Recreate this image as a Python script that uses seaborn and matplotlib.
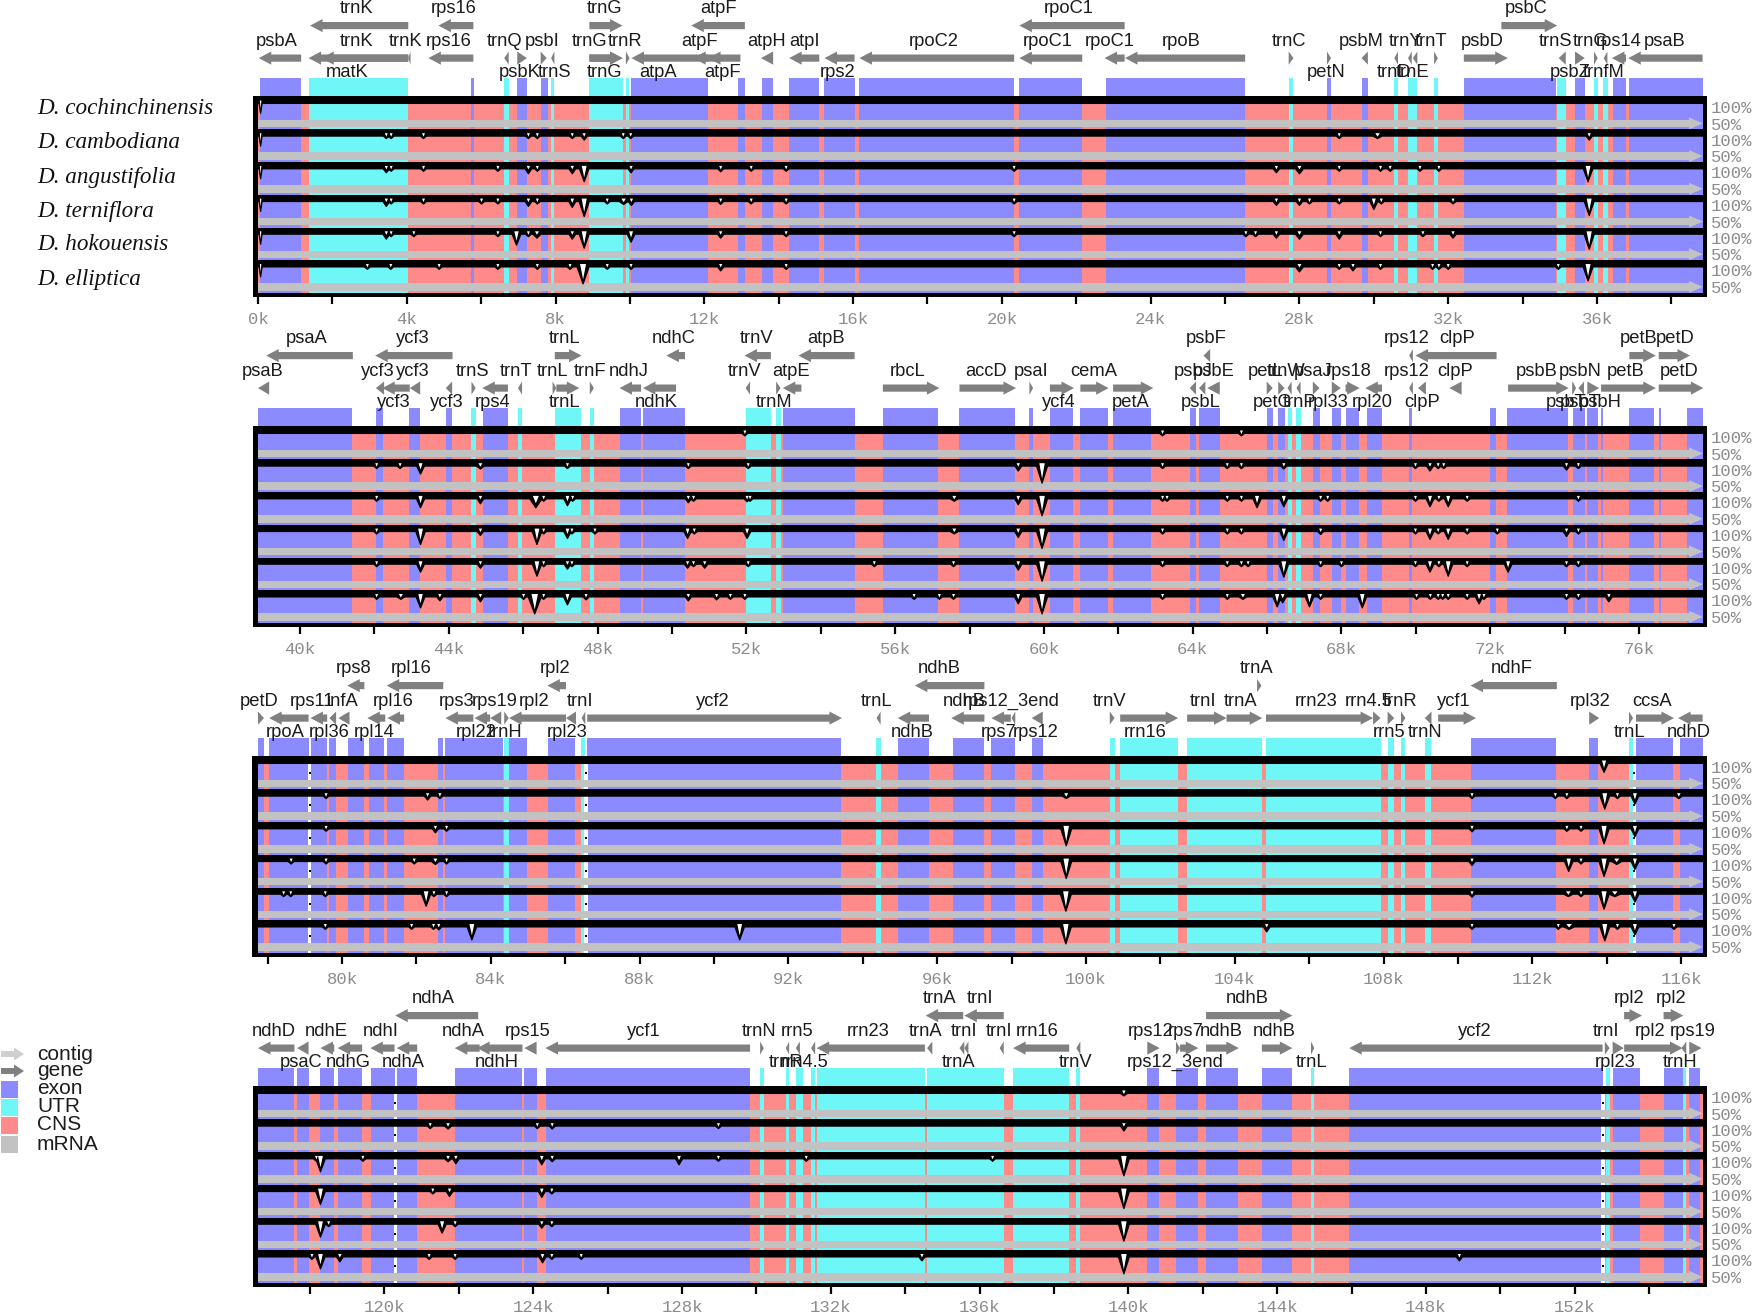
import math
import matplotlib
matplotlib.use("Agg")
import matplotlib.pyplot as plt
from matplotlib.patches import Rectangle, Polygon
import seaborn as sns

sns.set_theme(style="white", rc={"font.family": "Liberation Sans", "patch.force_edgecolor": False})

SPECIES = ["D. cochinchinensis", "D. cambodiana", "D. angustifolia",
           "D. terniflora", "D. hokouensis", "D. elliptica"]
PANEL_START = [0.0, 38.87, 77.74, 116.6]
PANEL_SPAN = 38.85

# ---- annotated blocks (kb) ----
P1_EXON = [(0.06,1.16),(5.73,5.80),(6.97,7.23),(7.60,7.81),(10.04,12.10),(12.91,13.09),(13.56,13.85),
           (14.28,15.09),(15.23,16.04),(16.17,20.33),(20.47,22.16),(22.81,26.54),(28.74,28.85),(29.67,29.84),
           (32.42,34.91),(35.41,35.67),(36.42,36.78),(36.86,38.84)]
P1_UTR = [(1.36,4.04),(6.62,6.74),(7.88,7.97),(8.91,9.80),(9.89,9.97),(27.71,27.84),(30.55,30.65),(30.92,31.17),
          (31.62,31.72),(34.93,35.16),(35.92,36.04),(36.17,36.29)]
P2_EXON = [(38.87,41.40),(42.04,42.22),(42.92,43.23),(43.92,44.09),(44.91,45.59),(48.61,49.16),(49.23,50.34),
           (52.98,54.91),(55.67,57.15),(57.73,59.22),(59.61,59.71),(60.16,60.79),(60.98,61.71),(61.86,62.89),
           (63.92,64.10),(64.17,64.73),(65.99,66.15),(66.30,66.47),(67.23,67.41),(67.74,67.98),(68.11,68.47),
           (68.68,69.09),(69.82,69.90),(71.98,72.16),(72.46,74.10),(74.23,74.54),(74.61,74.91),(74.97,75.03),
           (75.73,76.41),(76.53,76.60),(77.29,77.71)]
P2_UTR = [(44.61,44.73),(45.86,45.97),(46.85,47.55),(47.79,47.91),(51.98,52.66),(52.80,52.93),(66.55,66.66),(66.79,66.90)]
P3_EXON = [(77.74,77.90),(78.04,79.10),(79.17,79.59),(79.66,79.84),(80.17,80.59),(80.73,81.14),(81.22,81.67),
           (82.59,82.72),(82.78,84.32),(84.48,84.97),(85.54,86.26),(86.59,93.42),(94.94,95.78),(96.42,97.27),
           (97.46,98.10),(98.54,98.84),(110.34,112.65),(113.53,113.77),(114.79,115.77),(115.97,116.58)]
P3_UTR = [(84.36,84.48),(86.42,86.54),(94.36,94.48),(100.64,100.77),(100.92,102.48),(102.72,104.72),(104.84,107.92),
          (108.11,108.29),(108.47,108.59),(109.11,109.29),(114.60,114.71)]
P4_EXON = [(116.59,117.58),(117.65,117.96),(118.28,118.65),(118.76,119.40),(119.65,120.27),(120.33,120.88),
           (121.89,123.71),(123.76,124.09),(124.33,129.83),(140.51,140.83),(141.28,141.88),(142.09,142.94),
           (143.59,144.39),(145.94,152.75),(153.02,153.75),(154.39,154.90),(155.08,155.38)]
P4_UTR = [(130.10,130.20),(130.79,130.88),(131.06,131.25),(131.47,131.58),(131.62,134.52),(134.59,136.65),
          (136.90,138.41),(138.60,138.71),(144.91,145.00),(152.84,152.94),(154.90,155.00)]

# white assembly gaps in the tracks (kb)
P1_GAPS, P2_GAPS = [], []
P3_GAPS = [79.13, 86.56, 114.74]
P4_GAPS = [120.29, 152.76]

# ---- genes: name, start, end, strand, row (0 lower / 1 upper), label side (a/b), label centre ----
P1_GENES = [
 ("psbA",0.02,1.16,-1,0,"a",0.50),("trnK",1.36,4.04,-1,0,"a",2.65),("matK",1.70,4.04,-1,0,"b",2.39),
 ("trnK",4.04,4.10,-1,0,"a",3.97),("trnK",1.40,4.04,-1,1,"a",2.65),("rps16",4.58,5.79,-1,0,"a",5.13),
 ("rps16",4.85,5.79,-1,1,"a",5.27),("trnQ",6.62,6.74,-1,0,"a",6.62),("psbK",6.97,7.23,1,0,"b",7.05),
 ("psbI",7.60,7.76,1,0,"a",7.65),("trnS",7.88,7.97,-1,0,"b",7.97),("trnG",8.91,9.80,1,0,"a",8.92),
 ("trnG",8.91,9.80,1,0,"b",9.32),("trnG",8.91,9.80,1,1,"a",9.32),("trnR",9.89,9.99,1,0,"a",9.87),
 ("atpA",10.04,12.30,-1,0,"b",10.76),("atpF",11.70,12.10,-1,0,"a",11.88),("atpF",12.10,12.97,-1,0,"b",12.49),
 ("atpF",11.65,13.09,-1,1,"a",12.37),("atpH",13.52,13.85,-1,0,"a",13.67),("atpI",14.28,15.09,-1,0,"a",14.68),
 ("rps2",15.23,16.04,-1,0,"b",15.57),("rpoC2",16.17,20.33,-1,0,"a",18.17),("rpoC1",20.47,22.16,-1,0,"a",21.23),
 ("rpoC1",20.47,23.30,-1,1,"a",21.80),("rpoC1",22.76,23.30,-1,0,"a",22.91),("rpoB",23.31,26.54,-1,0,"a",24.83),
 ("trnC",27.71,27.84,1,0,"a",27.71),("petN",28.74,28.85,1,0,"b",28.73),("psbM",29.67,29.84,-1,0,"a",29.66),
 ("trnD",30.55,30.65,-1,0,"b",30.55),("trnY",30.92,31.02,-1,0,"a",30.85),("trnE",31.05,31.17,-1,0,"b",31.05),
 ("trnT",31.62,31.72,1,0,"a",31.55),("psbD",32.42,33.60,1,0,"a",32.91),("psbC",33.43,34.93,1,1,"a",34.09),
 ("trnS",34.97,35.16,-1,0,"a",34.89),("psbZ",35.41,35.67,1,0,"b",35.27),("trnG",35.92,36.02,1,0,"a",35.83),
 ("trnfM",36.18,36.28,-1,0,"b",36.17),("rps14",36.40,36.78,-1,0,"a",36.57),("psaB",36.84,38.84,-1,0,"a",37.83),
]
P2_GENES = [
 ("psaA",39.09,41.42,-1,1,"a",40.19),("ycf3",42.02,44.10,-1,1,"a",43.02),("trnL",46.85,47.57,1,1,"a",47.12),
 ("ndhC",49.85,50.35,-1,1,"a",50.04),("trnV",51.95,52.66,-1,1,"a",52.27),("atpB",53.40,54.91,-1,1,"a",54.14),
 ("psbF",64.29,64.47,-1,1,"a",64.37),("rps12",69.82,69.92,-1,1,"a",69.76),("clpP",69.99,72.17,-1,1,"a",71.11),
 ("petB",75.74,76.45,1,1,"a",75.98),("petD",76.53,77.37,1,1,"a",76.96),
 ("psaB",38.87,39.17,-1,0,"a",39.00),("ycf3",42.04,42.26,-1,0,"a",42.09),("ycf3",42.21,42.95,-1,0,"b",42.52),
 ("ycf3",42.95,43.23,-1,0,"a",43.02),("ycf3",43.92,44.09,-1,0,"b",43.95),("trnS",44.61,44.72,1,0,"a",44.63),
 ("rps4",44.90,45.59,-1,0,"b",45.17),("trnT",45.86,45.97,-1,0,"a",45.81),("trnL",46.79,46.89,1,0,"a",46.79),
 ("trnL",46.89,47.51,1,0,"b",47.12),("trnF",47.79,47.90,1,0,"a",47.81),("ndhJ",48.59,49.17,-1,0,"a",48.83),
 ("ndhK",49.22,50.11,-1,0,"b",49.58),("trnV",51.98,52.10,-1,0,"a",51.96),("trnM",52.80,52.92,1,0,"b",52.74),
 ("atpE",52.98,53.48,-1,0,"a",53.19),("rbcL",55.67,57.19,1,0,"a",56.34),("accD",57.73,59.25,1,0,"a",58.45),
 ("psaI",59.61,59.71,1,0,"a",59.66),("ycf4",60.16,60.81,1,0,"b",60.39),("cemA",60.98,61.74,1,0,"a",61.33),
 ("petA",61.86,62.94,1,0,"b",62.34),("psbL",63.92,64.09,-1,0,"b",64.22),("psbJ",64.17,64.34,-1,0,"a",64.00),
 ("psbE",64.39,64.73,-1,0,"a",64.57),("petL",65.99,66.15,1,0,"a",65.97),("petG",66.30,66.47,1,0,"b",66.15),
 ("trnW",66.55,66.66,-1,0,"a",66.51),("trnP",66.79,66.90,-1,0,"b",66.87),("psaJ",67.23,67.41,1,0,"a",67.23),
 ("rpl33",67.74,67.98,1,0,"b",67.65),("rps18",68.11,68.49,1,0,"a",68.19),("rpl20",68.64,69.09,-1,0,"b",68.82),
 ("rps12",69.82,69.92,-1,0,"a",69.76),("clpP",70.06,70.27,-1,0,"b",70.18),("clpP",70.90,71.23,-1,0,"a",71.05),
 ("psbB",72.48,74.11,1,0,"a",73.25),("psbT",74.21,74.30,1,0,"b",74.05),("psbN",74.37,74.52,-1,0,"a",74.41),
 ("psbT",74.21,74.30,1,0,"b",74.43),("psbH",74.61,74.93,1,0,"b",74.95),("petB",74.98,76.45,1,0,"a",75.65),
 ("petD",76.53,77.73,1,0,"a",77.08),
]
P3_GENES = [
 ("rps8",80.14,80.60,-1,1,"a",80.30),("rpl16",81.20,82.72,-1,1,"a",81.86),("rpl2",85.52,86.02,-1,1,"a",85.72),
 ("ndhB",95.40,97.27,-1,1,"a",96.07),("trnA",104.60,104.72,1,1,"a",104.58),("ndhF",110.34,112.66,-1,1,"a",111.45),
 ("petD",77.74,77.90,1,0,"a",77.78),("rpoA",78.04,79.10,-1,0,"b",78.46),("rps11",79.15,79.60,-1,0,"a",79.18),
 ("rpl36",79.66,79.84,-1,0,"b",79.66),("infA",79.90,80.20,-1,0,"a",80.02),("rpl14",80.68,81.16,-1,0,"b",80.86),
 ("rpl16",81.22,81.67,-1,0,"a",81.37),("rps3",82.78,83.53,-1,0,"a",83.08),("rpl22",83.56,83.98,-1,0,"b",83.60),
 ("rps19",83.98,84.28,-1,0,"a",84.10),("trnH",84.36,84.48,1,0,"b",84.37),("rpl2",84.49,86.02,-1,0,"a",85.16),
 ("rpl23",86.02,86.29,-1,0,"b",86.05),("trnI",86.44,86.54,-1,0,"a",86.41),("ycf2",86.59,93.44,1,0,"a",89.96),
 ("trnL",94.37,94.48,-1,0,"a",94.37),("ndhB",94.94,95.78,-1,0,"b",95.32),("ndhB",96.38,97.27,-1,0,"a",96.74),
 ("rps12_3end",98.00,98.10,-1,0,"a",98.00),("rps7",97.46,97.98,-1,0,"b",97.66),("rps12",98.54,98.84,-1,0,"b",98.66),
 ("trnV",100.64,100.77,1,0,"a",100.64),("rrn16",100.92,102.48,1,0,"b",101.58),("trnI",102.72,103.78,1,0,"a",103.16),
 ("trnA",103.78,104.74,1,0,"a",104.16),("rrn23",104.84,107.72,1,0,"a",106.20),("rrn4.5",107.72,107.92,1,0,"a",107.60),
 ("rrn5",108.11,108.29,1,0,"b",108.15),("trnR",108.47,108.59,1,0,"a",108.44),("trnN",109.11,109.29,-1,0,"b",109.11),
 ("ycf1",109.47,110.49,1,0,"a",109.89),("rpl32",113.53,113.80,1,0,"a",113.55),("trnL",114.60,114.71,1,0,"b",114.62),
 ("ccsA",114.79,115.81,1,0,"a",115.23),("ndhD",115.92,116.58,-1,0,"b",116.22),
]
P4_GENES = [
 ("ndhA",120.29,122.52,-1,1,"a",121.32),("trnA",134.55,135.56,-1,1,"a",134.93),("trnI",135.59,136.65,-1,1,"a",136.02),
 ("ndhB",142.09,144.41,1,1,"a",143.20),("rpl2",153.33,153.81,1,1,"a",153.46),("rpl2",154.39,154.92,1,1,"a",154.60),
 ("ndhD",116.60,117.58,-1,0,"a",117.02),("psaC",117.65,117.96,-1,0,"b",117.76),("ndhE",118.28,118.65,-1,0,"a",118.44),
 ("ndhG",118.74,119.40,-1,0,"b",119.03),("ndhI",119.62,120.27,-1,0,"a",119.90),("ndhA",120.33,120.88,-1,0,"b",120.50),
 ("ndhA",121.89,122.56,-1,0,"a",122.12),("ndhH",122.49,123.71,-1,0,"b",123.01),("rps15",123.76,124.09,-1,0,"a",123.86),
 ("ycf1",124.33,129.83,-1,0,"a",126.98),("trnN",130.10,130.20,1,0,"a",130.07),("trnR",130.79,130.88,-1,0,"b",130.79),
 ("rrn5",131.06,131.17,-1,0,"a",131.10),("rrn4.5",131.47,131.58,-1,0,"b",131.30),("rrn23",131.62,134.53,-1,0,"a",133.00),
 ("trnA",134.59,134.73,-1,0,"a",134.56),("trnI",135.46,135.59,-1,0,"a",135.59),("trnA",135.59,135.70,-1,0,"b",135.43),
 ("trnI",136.54,136.65,-1,0,"a",136.53),("rrn16",136.90,138.41,-1,0,"a",137.55),("trnV",138.60,138.71,-1,0,"b",138.59),
 ("rps12",140.51,140.84,1,0,"a",140.61),("rps12_3end",141.28,141.39,1,0,"b",141.25),("rps7",141.39,141.88,1,0,"a",141.55),
 ("ndhB",142.09,142.97,1,0,"a",142.49),("ndhB",143.59,144.41,1,0,"a",143.93),("trnL",144.91,145.00,1,0,"b",144.92),
 ("ycf2",145.94,152.75,-1,0,"a",149.30),("trnI",152.81,152.94,1,0,"a",152.83),("rpl23",153.02,153.32,1,0,"b",153.08),
 ("rpl2",153.33,154.90,1,0,"a",154.02),("trnH",154.87,155.00,-1,0,"b",154.83),("rps19",155.08,155.41,1,0,"a",155.18),
]

# ---- conservation dips per species: kb, or (kb, depth) or (kb, depth, width) ----
P1_DIPS = [
 [(0.07,10,3)],
 [(0.07,10,3),3.45,3.58,4.45,7.27,7.51,8.45,(8.77,4),9.82,10.02,29.07,(30.10,2.5,9),(35.79,4)],
 [(0.07,10,3),(3.45,4),3.58,4.45,6.45,(7.27,5),7.51,(8.45,5),(8.77,13),(10.03,4),(12.44,3),13.26,14.20,20.33,
  (27.38,4),(28.0,5,8),29.07,30.18,30.44,31.24,31.75,(35.76,13)],
 [(0.07,10,3),(3.45,5),3.58,4.45,6.01,6.45,(7.27,5),7.51,(8.45,6),(8.77,15),9.39,(9.83,3,9),(10.04,4),(12.44,3),
  13.26,14.20,20.33,(27.38,4),(28.0,4),28.27,29.07,(30.0,8),30.2,32.13,(35.79,14)],
 [(0.07,10,3),(3.45,5),3.58,4.19,6.45,(6.95,11),7.27,(7.5,4,8),(8.45,5),(8.77,14),(10.03,8),(12.44,4),14.2,20.33,
  26.56,26.82,(27.38,4),(28.0,5,8),(29.07,5),30.18,31.32,(32.13,4),(35.79,15)],
 [(0.07,10,3),2.94,3.57,4.87,6.45,7.51,8.39,(8.74,17,12),9.39,10.03,(12.44,4),14.2,(28.0,5,8),29.07,(29.44,4),30.18,
  31.58,31.75,32.0,34.96,(35.76,14)],
]
P2_DIPS = [
 [51.96,63.19,65.31],
 [42.06,42.69,(43.24,8),(44.85,3,8),47.19,50.44,52.05,(59.31,5),(59.95,17),63.19,64.93,65.31,(66.45,3),69.99,
  (70.38,5),70.6,70.75,(74.05,4),74.37],
 [42.06,(43.24,9),(44.85,5),(46.34,9,12),46.55,(47.19,7),47.33,(50.44,4),50.58,(52.02,3),52.1,(57.59,2.5,8),(59.31,6),
  (59.95,17),63.19,63.31,64.93,65.31,(65.73,9),(66.45,8),67.44,67.63,69.99,(70.38,8),70.62,(70.87,8),71.38,74.37],
 [42.06,(43.24,13),(44.85,4),(46.37,13),46.55,(47.19,7),47.31,47.93,(50.42,7),(50.6,2.5,6),(52.02,7),(57.59,2.5,8),
  (59.31,6),(59.95,17),63.19,64.93,65.31,(66.45,9),(67.44,3),69.99,(70.38,8),70.6,(70.87,8),71.38,72.19,(74.05,5),74.37],
 [42.06,(43.24,8),(44.85,4),(46.37,12),46.55,(47.19,5),47.31,(50.42,4),50.58,(50.88,4),52.05,55.44,57.57,(59.31,6),
  (59.95,17),63.19,64.93,65.31,65.49,(66.45,13),67.44,68.0,69.99,(70.38,8),70.62,(70.87,12),71.38,(72.48,8),74.05,74.37],
 [42.06,(42.71,2.5,8),(43.24,11),(43.76,4),(44.85,5),46.01,(46.31,17,13),46.55,(47.19,8),(47.69,3),(50.44,4),(51.2,3),
  51.57,51.96,56.51,57.19,57.57,(59.31,7),(59.95,17),63.19,64.93,(65.35,2.5,8),(66.27,10),(66.42,6),(67.14,10),67.44,
  (68.56,11),70.02,70.39,70.6,70.72,70.87,71.38,(71.7,7),71.83,74.05,74.37,(75.19,5)],
]
P3_DIPS = [
 [(113.93,9)],
 [79.57,(82.3,4),82.63,(99.47,2.5,8),110.38,112.62,112.93,(113.95,13),114.29,(114.76,8),(115.94,2.5,7)],
 [79.57,(82.51,4),82.81,(99.47,17),(110.38,3),112.93,113.31,(113.93,15),(114.76,8)],
 [78.63,79.57,81.94,(82.51,3,8),82.81,(99.47,17),(110.38,4),(112.98,10),113.31,(113.93,15),(114.27,3,10),(114.76,8)],
 [78.43,78.62,79.55,(82.26,12),82.47,82.81,(99.46,17),(110.38,3),(112.97,2.5,9),113.31,(113.93,15),(114.22,2.5,11),(114.76,8)],
 [79.55,81.87,82.46,(82.6,3),(83.49,13),(90.69,13),(99.46,17),(104.86,5),110.38,112.70,(112.99,2.5,11),(113.95,14),114.29,
  (114.76,8),115.81],
]
P4_DIPS = [
 [(139.88,2.5,7)],
 [121.23,(121.71,3,7),124.11,(124.51,3),128.98,(139.88,5)],
 [118.17,(118.28,13),119.42,(121.71,3,7),(121.92,5),(124.23,6),(124.51,3),(127.92,6),128.98,131.34,136.35,(139.88,17)],
 [(118.28,13),121.3,(121.75,5),(124.23,6),124.5,(139.88,17)],
 [(118.28,13),118.5,(121.55,9),121.9,(124.23,4),124.5,(139.88,17)],
 [118.05,(118.28,12),(118.8,5),121.2,121.9,(124.25,6),124.5,125.29,(134.45,4),(139.88,17),(148.9,4)],
]

EXONS = [P1_EXON, P2_EXON, P3_EXON, P4_EXON]
UTRS = [P1_UTR, P2_UTR, P3_UTR, P4_UTR]
GENES = [P1_GENES, P2_GENES, P3_GENES, P4_GENES]
DIPS = [P1_DIPS, P2_DIPS, P3_DIPS, P4_DIPS]
GAPS = [P1_GAPS, P2_GAPS, P3_GAPS, P4_GAPS]

C_EXON, C_UTR, C_CNS, C_MRNA = "#8B8BFF", "#6FF6F6", "#FF8A8A", "#C2C2C2"
C_GENE, C_CONTIG = "#808080", "#CFCFCF"
W, H = 1753, 1313
FRAME_TOPS = [96.7, 426.7, 756.7, 1086.7]
ABOVE, BELOW = 97, 199.8
L, R = 258, 1703
PX = (R - L) / PANEL_SPAN          # pixels per kb
STEP = 32.7
NOEDGE = dict(edgecolor="none", linewidth=0)

fig = plt.figure(figsize=(W / 100, H / 100), dpi=100, facecolor="white")


def gene_arrow(ax, s, e, strand, y):
    head = min(12.5 / PX, e - s)
    tail, tip = (s, e) if strand > 0 else (e, s)
    neck = tip - strand * head
    pts = [(tail, y - 3.6), (neck, y - 3.6), (neck, y - 6.6), (tip, y), (neck, y + 6.6), (neck, y + 3.6), (tail, y + 3.6)]
    ax.add_patch(Polygon(pts, closed=True, fc=C_GENE, ec="none", lw=0, clip_on=False, zorder=3))


for p, x0 in enumerate(PANEL_START):
    top = FRAME_TOPS[p]
    ax = fig.add_axes([L / W, 1 - (top + BELOW) / H, (R - L) / W, (ABOVE + BELOW) / H])
    x1 = x0 + PANEL_SPAN
    ax.set_xlim(x0, x1)
    ax.set_ylim(BELOW, -ABOVE)
    ax.patch.set_alpha(0)
    sns.despine(ax=ax, left=True, bottom=True)
    ax.set_yticks([])

    # annotation strip above the frame
    for blocks, col in ((EXONS[p], C_EXON), (UTRS[p], C_UTR)):
        ax.broken_barh([(a, b - a) for a, b in blocks], (-19, 19), facecolors=col, zorder=1, **NOEDGE)

    # genes
    for name, s, e, strand, row, side, lab in GENES[p]:
        y = -71.1 if row else -38.6
        gene_arrow(ax, s, e, strand, y)
        ly = -87.8 if row else (-55.5 if side == "a" else -24)
        ax.text(lab, ly, name, ha="center", va="center", fontsize=13.2, color="#1c1c1c", zorder=5,
                family="Liberation Sans")

    # tracks
    for t in range(6):
        y0 = t * STEP
        ax.broken_barh([(x0, PANEL_SPAN)], (y0 + 6.7, STEP - 6.7), facecolors=C_CNS, zorder=1, **NOEDGE)
        for blocks, col in ((EXONS[p], C_EXON), (UTRS[p], C_UTR)):
            ax.broken_barh([(a, b - a) for a, b in blocks], (y0 + 6.7, STEP - 6.7), facecolors=col, zorder=1.2, **NOEDGE)
        for g in GAPS[p]:
            ax.broken_barh([(g - 1.6 / PX, 3.2 / PX)], (y0 + 6.7, STEP - 6.7), facecolors="white", zorder=1.4, **NOEDGE)
            ax.plot([g], [y0 + 16], marker="s", ms=2, mew=0, color="black", zorder=1.5)
        # mRNA bar with its arrowhead
        ax.broken_barh([(x0, PANEL_SPAN - 13 / PX)], (y0 + 23.0, 7.4), facecolors=C_MRNA, zorder=2, **NOEDGE)
        ax.add_patch(Polygon([(x1 - 14 / PX, y0 + 20.7), (x1, y0 + 26.7), (x1 - 14 / PX, y0 + 32.7)],
                             closed=True, fc=C_MRNA, ec="none", lw=0, zorder=2))
        # black 100% band
        ax.broken_barh([(x0, PANEL_SPAN)], (y0, 6.7), facecolors="black", zorder=3, **NOEDGE)
        # dips in the conservation curve
        base = y0 + 6.7
        xs, ys = [x0], [base]
        entries = [(d, 2.5) if not isinstance(d, tuple) else d for d in DIPS[p][t]]
        for entry in entries:
            kb, depth = entry[0], entry[1]
            w = entry[2] if len(entry) > 2 else 5.0 + depth * 0.35
            hw = w / 2 / PX
            xs += [kb - hw, kb, kb + hw]
            ys += [base, base + depth, base]
            ax.add_patch(Polygon([(kb - hw, base - 0.5), (kb, base + depth), (kb + hw, base - 0.5)],
                                 closed=True, fc="black", ec="none", lw=0, zorder=3.2))
            core = max(0.6, depth - 4.5)
            ax.add_patch(Polygon([(kb - hw * 0.5, y0 + 3.8), (kb + hw * 0.5, y0 + 3.8), (kb, base + core)],
                                 closed=True, fc="white", ec="none", lw=0, zorder=3.4))
        xs.append(x1)
        ys.append(base)
        sns.lineplot(x=xs, y=ys, ax=ax, color="black", lw=0.9, estimator=None, sort=False, zorder=3.1)
        ax.text(x1 + 8 / PX, y0 + 11.6, "100%", ha="left", va="center", fontsize=12.4, color="#8c8c8c",
                family="Liberation Mono")
        ax.text(x1 + 8 / PX, y0 + 28.3, "50%", ha="left", va="center", fontsize=12.4, color="#8c8c8c",
                family="Liberation Mono")

    # thick frame
    for rect in ((x0 - 5.5 / PX, -0.2, 5.5 / PX, BELOW + 0.2), (x1, -0.2, 4.3 / PX, BELOW + 0.2),
                 (x0 - 5.5 / PX, BELOW - 4, PANEL_SPAN + 9.8 / PX, 4), (x0 - 5.5 / PX, -0.4, PANEL_SPAN + 9.8 / PX, 3)):
        ax.add_patch(Rectangle(rect[:2], rect[2], rect[3], fc="black", ec="none", lw=0, clip_on=False, zorder=4))

    # kb ticks: every 2k, labelled every 4k
    first = math.ceil(x0 / 2) * 2
    all_ticks = list(range(first, int(x1) + 1, 2))
    major = [v for v in all_ticks if v % 4 == 0]
    minor = [v for v in all_ticks if v % 4 != 0]
    ax.set_xticks(major)
    ax.set_xticklabels([f"{v}k" for v in major], family="Liberation Mono", fontsize=12.4, color="#8c8c8c")
    ax.set_xticks(minor, minor=True)
    ax.tick_params(axis="x", which="both", bottom=True, length=5, width=1.6, color="black",
                   pad=(4.5 if p == 3 else 6.5), direction="out")

# overlay: species names and legend
ov = fig.add_axes([0, 0, 1, 1], zorder=-1)
ov.set_xlim(0, W)
ov.set_ylim(H, 0)
ov.axis("off")
for name, y in zip(SPECIES, [108, 142, 177, 211, 245, 279]):
    ov.text(37, y, name, style="italic", fontsize=16.7, family="Liberation Serif", va="center", ha="left", color="#111111")

LEG_NAMES = ["contig", "gene", "exon", "UTR", "CNS", "mRNA"]
LEG_COLORS = [C_CONTIG, C_GENE, C_EXON, C_UTR, C_CNS, C_MRNA]
LEG_Y = [1054, 1071, 1089, 1107, 1125, 1144]
for name, col, y in zip(LEG_NAMES, LEG_COLORS, LEG_Y):
    if name in ("contig", "gene"):
        ov.add_patch(Polygon([(1, y - 3), (14, y - 3), (14, y - 6.5), (24, y), (14, y + 6.5), (14, y + 3), (1, y + 3)],
                             closed=True, fc=col, ec="none", lw=0))
    else:
        ov.add_patch(Rectangle((1, y - 8.5), 17, 17, fc=col, ec="none", lw=0))
    ov.text(37, y, name, fontsize=15, family="Liberation Sans", va="center", ha="left", color="#1c1c1c")

fig.savefig("out.png", dpi=100, facecolor="white")
